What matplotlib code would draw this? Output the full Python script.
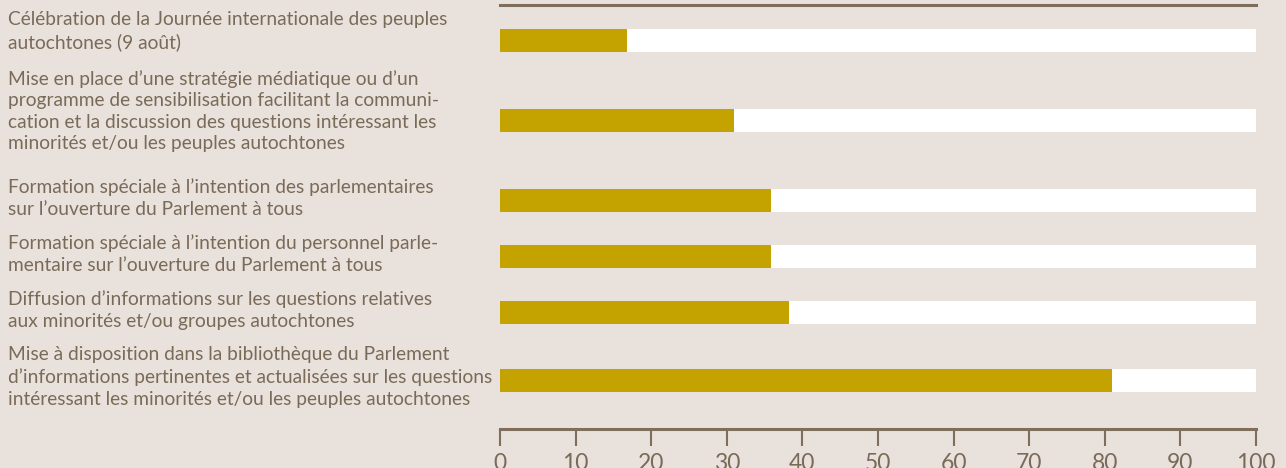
#!/usr/bin/env python3
# Horizontal progress bars: share of parliaments (%) for each measure.
import matplotlib.pyplot as plt
from matplotlib.transforms import blended_transform_factory

LABELS = [
    "Célébration de la Journée internationale des peuples\nautochtones (9 août)",
    "Mise en place d\u2019une stratégie médiatique ou d\u2019un\n"
    "programme de sensibilisation facilitant la communi-\n"
    "cation et la discussion des questions intéressant les\n"
    "minorités et/ou les peuples autochtones",
    "Formation spéciale à l\u2019intention des parlementaires\nsur l\u2019ouverture du Parlement à tous",
    "Formation spéciale à l\u2019intention du personnel parle-\nmentaire sur l\u2019ouverture du Parlement à tous",
    "Diffusion d\u2019informations sur les questions relatives\naux minorités et/ou groupes autochtones",
    "Mise à disposition dans la bibliothèque du Parlement\n"
    "d\u2019informations pertinentes et actualisées sur les questions\n"
    "intéressant les minorités et/ou les peuples autochtones",
]
VALUES = [16.8, 31, 35.8, 35.8, 38.2, 81]
XTICKS = list(range(0, 101, 10))

# layout (vertical positions in pixel-like units, top = 5, bottom = 429)
BAR_POS = [40, 120, 200, 256, 312, 380]
TEXT_POS = [31, 111, 198, 254, 310, 377]

BG = "#e9e2dc"
GOLD = "#c4a300"
LINE = "#7f6e5c"
TEXT = "#7a6a58"

plt.rcParams["font.family"] = ["Lato", "DejaVu Sans"]

fig = plt.figure(figsize=(12.86, 4.68), dpi=100, facecolor=BG)
ax = fig.add_axes([500 / 1286, (468 - 429) / 468, 756 / 1286, 424 / 468])
ax.set_facecolor(BG)

ax.barh(BAR_POS, [100] * len(VALUES), height=23, color="white", zorder=2)
ax.barh(BAR_POS, VALUES, height=23, color=GOLD, zorder=3)

ax.set_xlim(0, 100)
ax.set_ylim(429, 5)
ax.set_yticks([])
ax.set_xticks(XTICKS)
ax.tick_params(axis="x", length=12, width=1.5, color=LINE, labelcolor=TEXT,
               labelsize=16.5, pad=5)

for side in ("left", "right"):
    ax.spines[side].set_visible(False)
for side in ("top", "bottom"):
    ax.spines[side].set_color(LINE)
    ax.spines[side].set_linewidth(2.2)

trans = blended_transform_factory(fig.transFigure, ax.transData)
for lbl, y in zip(LABELS, TEXT_POS):
    ax.text(8 / 1286, y, lbl, transform=trans, ha="left", va="center",
            fontsize=13.8, color=TEXT, linespacing=1.32)

fig.savefig("out.png", dpi=100, facecolor=BG)
